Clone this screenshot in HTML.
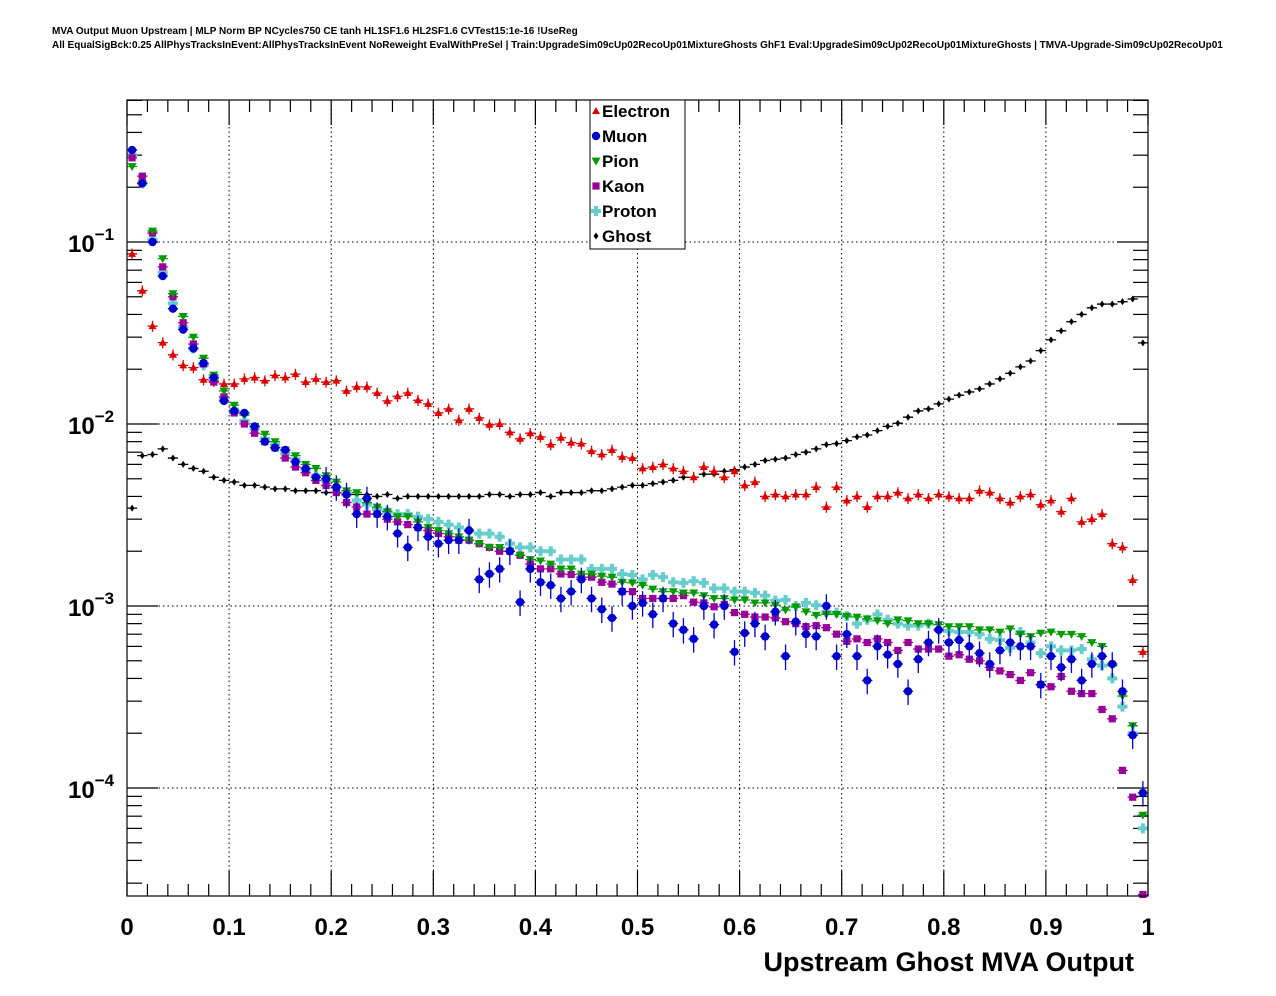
<!DOCTYPE html>
<html><head><meta charset="utf-8"><style>
html,body{margin:0;padding:0;background:#fff;}
svg{display:block;font-family:"Liberation Sans",sans-serif;}
</style></head><body>
<svg id="chart" width="1276" height="996" viewBox="0 0 1276 996" xmlns="http://www.w3.org/2000/svg">
<rect x="0" y="0" width="1276" height="996" fill="#fff"/>
<text x="52" y="34" font-size="10" font-weight="bold">MVA Output Muon Upstream | MLP Norm BP NCycles750 CE tanh HL1SF1.6 HL2SF1.6 CVTest15:1e-16 !UseReg</text>
<text x="52" y="48" font-size="10" font-weight="bold">All EqualSigBck:0.25 AllPhysTracksInEvent:AllPhysTracksInEvent NoReweight EvalWithPreSel | Train:UpgradeSim09cUp02RecoUp01MixtureGhosts GhF1 Eval:UpgradeSim09cUp02RecoUp01MixtureGhosts | TMVA-Upgrade-Sim09cUp02RecoUp01</text>
<g id="grid"></g>
<g id="axes"></g>
<g id="series"></g>
<rect x="127" y="100" width="1021" height="796" fill="none" stroke="#000" stroke-width="1.2"/>
<text x="1134" y="971" font-size="27" font-weight="bold" text-anchor="end">Upstream Ghost MVA Output</text>
<g>
<rect x="590" y="100" width="95" height="149" fill="#fff" stroke="#000" stroke-width="1"/>
<g id="legend-entries"></g>
</g>
</svg>
<script>
const binCenters = Array.from({length:100},(_,i)=>(i+0.5)/100);
const electron = [0.086,0.054,0.0345,0.028,0.024,0.021,0.0204,0.0175,0.0172,0.0166,
0.0166,0.0177,0.018,0.0173,0.0185,0.018,0.0188,0.017,0.0177,0.017,
0.0173,0.0152,0.016,0.016,0.0148,0.0134,0.0142,0.0148,0.0135,0.0129,
0.0115,0.0121,0.0105,0.0121,0.0108,0.0099,0.0100,0.0090,0.0083,0.0089,
0.0085,0.0077,0.0084,0.0079,0.0078,0.0071,0.0068,0.0072,0.0066,0.0065,
0.0057,0.0058,0.0060,0.0057,0.0055,0.0051,0.0058,0.0055,0.0051,0.0055,
0.0046,0.0048,0.0040,0.0041,0.0040,0.0041,0.0041,0.0045,0.0035,0.0045,
0.0038,0.0040,0.0035,0.0040,0.0040,0.0042,0.0039,0.0041,0.0039,0.0041,
0.0040,0.0039,0.0039,0.0043,0.0042,0.0039,0.0037,0.0040,0.0041,0.0036,
0.0038,0.0033,0.0039,0.0029,0.0030,0.0032,0.0022,0.0021,0.00139,0.00056];
const ghost = [0.00345,0.0067,0.0068,0.0073,0.0065,0.0060,0.0057,0.0055,0.0051,0.0049,
0.0048,0.0046,0.0046,0.0045,0.0044,0.0044,0.0043,0.0043,0.0043,0.0042,
0.0042,0.0041,0.0041,0.0041,0.0040,0.0041,0.0039,0.0040,0.0040,0.0040,
0.0040,0.0040,0.0040,0.0040,0.0040,0.0041,0.0041,0.0040,0.0041,0.0041,
0.0042,0.0040,0.0042,0.0042,0.0042,0.0043,0.0043,0.0044,0.0045,0.0046,
0.0046,0.0047,0.0048,0.0049,0.0051,0.0051,0.0053,0.0053,0.0055,0.0056,
0.0058,0.0060,0.0063,0.0064,0.0065,0.0068,0.0070,0.0073,0.0077,0.0078,
0.0081,0.0085,0.0087,0.0092,0.0097,0.0101,0.0109,0.0118,0.0121,0.0129,
0.0137,0.0144,0.0150,0.0156,0.0166,0.0177,0.0190,0.0206,0.0222,0.0253,
0.0290,0.0325,0.0365,0.0400,0.0435,0.0456,0.0456,0.0470,0.0486,0.0279];
const muon = [0.32,0.21,0.10,0.065,0.043,0.033,0.026,0.0216,0.018,0.0134,
0.0118,0.0115,0.0097,0.0080,0.0074,0.0072,0.0062,0.0057,0.0051,0.0050,
0.0045,0.0041,0.0032,0.0039,0.0032,0.0031,0.0025,0.0021,0.0027,0.0024,
0.0022,0.0023,0.0023,0.0026,0.0014,0.0015,0.0016,0.0020,0.00105,0.0016,
0.00135,0.0013,0.0011,0.0012,0.0014,0.0011,0.00096,0.00086,0.0012,0.0010,
0.00104,0.0009,0.0011,0.0008,0.00074,0.00066,0.0010,0.00079,0.0010,0.00056,
0.00071,0.0008,0.00068,0.00093,0.00053,0.00082,0.0007,0.00068,0.0010,0.00053,
0.0007,0.00053,0.00039,0.0006,0.00054,0.00048,0.00034,0.00051,0.00063,0.00074,
0.00063,0.00065,0.0006,0.00055,0.00048,0.00057,0.00063,0.0006,0.0006,0.00037,
0.00053,0.00046,0.00051,0.00039,0.00048,0.00053,0.00048,0.00034,0.000195,0.000094];
const pion = [0.26,0.21,0.115,0.081,0.052,0.039,0.030,0.023,0.0186,0.0152,
0.0127,0.0112,0.0097,0.0088,0.0080,0.0072,0.0067,0.0060,0.0057,0.0052,
0.0048,0.0043,0.0042,0.0037,0.0035,0.0033,0.0031,0.0031,0.0029,0.0027,
0.0026,0.0025,0.0024,0.0023,0.0022,0.0021,0.0021,0.0020,0.0019,0.0018,
0.00177,0.0017,0.0016,0.0016,0.0015,0.0015,0.00146,0.00144,0.00135,0.00134,
0.0013,0.00124,0.0012,0.0012,0.00118,0.00118,0.00114,0.0011,0.0011,0.00108,
0.00108,0.00104,0.00104,0.00101,0.00095,0.00099,0.00093,0.00089,0.0009,0.0009,
0.00088,0.00087,0.00085,0.00083,0.0008,0.00084,0.00083,0.0008,0.0008,0.00079,
0.00077,0.00077,0.00077,0.00074,0.00074,0.00072,0.00075,0.0007,0.00068,0.00071,
0.00072,0.0007,0.0007,0.00068,0.00063,0.0006,0.00047,0.00032,0.00022,0.000071];
const kaon = [0.29,0.23,0.112,0.073,0.050,0.036,0.0275,0.0214,0.017,0.0141,
0.0115,0.0100,0.0089,0.0080,0.0074,0.0065,0.0058,0.0054,0.0049,0.0046,
0.0042,0.0037,0.0035,0.0032,0.0032,0.0030,0.0029,0.0028,0.0027,0.0026,
0.0025,0.0024,0.0023,0.0023,0.0022,0.0021,0.0020,0.0020,0.0019,0.0017,
0.0016,0.0016,0.0015,0.00149,0.00144,0.00144,0.00135,0.00132,0.0012,0.0012,
0.0011,0.0011,0.0011,0.0011,0.00114,0.00105,0.00104,0.00099,0.00102,0.00092,
0.0009,0.00087,0.00087,0.00086,0.00082,0.0008,0.00077,0.00078,0.00076,0.0007,
0.00064,0.00066,0.00063,0.00066,0.00063,0.00057,0.00063,0.00058,0.00058,0.00058,
0.00053,0.00054,0.00051,0.0005,0.00046,0.00044,0.00042,0.00039,0.00043,0.00037,
0.00036,0.00041,0.00034,0.00033,0.00033,0.00027,0.00024,0.000125,0.000089,0.000026];
const proton = [0.30,0.21,0.103,0.068,0.046,0.034,0.026,0.021,0.0178,0.0138,
0.0120,0.0104,0.0094,0.0083,0.0077,0.0069,0.0064,0.0056,0.0052,0.0049,
0.0045,0.0041,0.0038,0.0036,0.0034,0.0033,0.0032,0.0032,0.0031,0.0030,
0.0029,0.0028,0.0027,0.0026,0.0025,0.0025,0.0024,0.0022,0.0021,0.0021,
0.0020,0.0020,0.0018,0.0018,0.0018,0.0016,0.0016,0.0016,0.0015,0.00148,
0.0014,0.00148,0.00144,0.00135,0.00134,0.00137,0.00134,0.00125,0.00125,0.0012,
0.0012,0.00118,0.00114,0.00107,0.00108,0.0010,0.00104,0.00101,0.00093,0.00092,
0.00088,0.0008,0.00084,0.0009,0.00084,0.0008,0.00078,0.00078,0.0008,0.00074,
0.00073,0.00072,0.00072,0.0007,0.00066,0.00065,0.00059,0.00072,0.00063,0.00055,
0.0006,0.00057,0.00057,0.00058,0.00051,0.00047,0.0004,0.00028,0.0002,0.00006];
const xTickLabels = ["0","0.1","0.2","0.3","0.4","0.5","0.6","0.7","0.8","0.9","1"];
const yTickExponents = [-1,-2,-3,-4];

const NS="http://www.w3.org/2000/svg";
const X0=127,X1=1148,Y0=100,Y1=896;
function xScale(v){return X0+v*(X1-X0);}
function yScale(v){return 788-(Math.log10(v)+4)*182;}
function mk(tag,attrs,parent){const e=document.createElementNS(NS,tag);for(const k in attrs)e.setAttribute(k,attrs[k]);parent.appendChild(e);return e;}

const grid=document.getElementById('grid');
for(let i=1;i<10;i++){const x=xScale(i/10);
 const l=mk('line',{x1:x,x2:x,y1:Y0,y2:Y1,stroke:'#000','stroke-width':1,'stroke-dasharray':'1.5,3'},grid);
 
 }
yTickExponents.forEach(e=>{const y=yScale(Math.pow(10,e));
 const l=mk('line',{x1:X0,x2:X1,y1:y,y2:y,stroke:'#000','stroke-width':1,'stroke-dasharray':'1.5,3'},grid);
 
 });

const axes=document.getElementById('axes');
for(let i=0;i<=50;i++){const x=xScale(i/50);const len=(i%5===0)?25:12;
 const t=mk('line',{x1:x,x2:x,y1:Y1,y2:Y1-len,stroke:'#000','stroke-width':1.2},axes);
 
 
 const t2=mk('line',{x1:x,x2:x,y1:Y0,y2:Y0+len,stroke:'#000','stroke-width':1.2},axes);
 
 }
xTickLabels.forEach((s,i)=>{const t=mk('text',{x:xScale(i/10),y:935,'font-size':24,'font-weight':'bold','text-anchor':'middle'},axes);t.textContent=s;
 
 });
for(let e=-5;e<=0;e++){for(let m=1;m<10;m++){const v=m*Math.pow(10,e);const y=yScale(v);if(y<Y0||y>Y1)continue;const len=m===1?31:15;
 const t=mk('line',{x1:X0,x2:X0+len,y1:y,y2:y,stroke:'#000','stroke-width':1.2},axes);
 
 
 const t2=mk('line',{x1:X1,x2:X1-len,y1:y,y2:y,stroke:'#000','stroke-width':1.2},axes);
 
 }}
yTickExponents.forEach(e=>{const y=yScale(Math.pow(10,e));
 const t=mk('text',{x:68,y:y+10,'font-size':24,'font-weight':'bold'},axes);
 
 
 const a=mk('tspan',{},t);a.textContent='10';
 const b=mk('tspan',{'font-size':17,dy:-12},t);b.textContent='\u2212'+Math.abs(e);});

const S=document.getElementById('series');
function marker(g,type,x,y,col,s){
 if(type==='tri-up')return mk('polygon',{points:`${x},${y-s} ${x-s},${y+s*0.75} ${x+s},${y+s*0.75}`,fill:col},g);
 if(type==='tri-down')return mk('polygon',{points:`${x},${y+s} ${x-s},${y-s*0.75} ${x+s},${y-s*0.75}`,fill:col},g);
 if(type==='circle')return mk('circle',{cx:x,cy:y,r:s,fill:col},g);
 if(type==='square')return mk('rect',{x:x-s,y:y-s,width:2*s,height:2*s,fill:col},g);
 if(type==='cross'){const w=s*0.4;return mk('path',{d:`M${x-w},${y-s}h${2*w}v${s-w}h${s-w}v${2*w}h${-(s-w)}v${s-w}h${-2*w}v${-(s-w)}h${-(s-w)}v${-2*w}h${s-w}z`,fill:col},g);}
 if(type==='diamond')return mk('polygon',{points:`${x},${y-s} ${x+s*0.7},${y} ${x},${y+s} ${x-s*0.7},${y}`,fill:col},g);
}
const seriesList=[
 {name:'ghost',label:'Ghost',data:ghost,col:'#000',type:'diamond',s:3.5,err:0.03},
 {name:'electron',label:'Electron',data:electron,col:'#dd0000',type:'tri-up',s:4,err:0.07},
 {name:'proton',label:'Proton',data:proton,col:'#66cccc',type:'cross',s:5,err:0.03},
 {name:'kaon',label:'Kaon',data:kaon,col:'#990099',type:'square',s:3.6,err:0.03},
 {name:'pion',label:'Pion',data:pion,col:'#009900',type:'tri-down',s:4.5,err:0.03},
 {name:'muon',label:'Muon',data:muon,col:'#0000cc',type:'circle',s:4.2,err:0.16}
];
seriesList.forEach(sr=>{
 const g=mk('g',{},S);
 
 
 sr.data.forEach((v,i)=>{
  const c=binCenters[i];const x=xScale(c);const y=yScale(v);
  const xl=xScale(c-0.005),xr=xScale(c+0.005);
  const err=(sr.name==='muon'&&v>0.005)?0.03:sr.err;
  const e=mk('path',{d:`M${xl},${y}H${xr}M${x},${yScale(v*(1+err))}V${yScale(v*(1-err))}`,stroke:sr.col,'stroke-width':1.3,fill:'none'},g);
  
  
  const m=marker(g,sr.type,x,y,sr.col,sr.s);
  
  
 });
});
const legendOrder=['electron','muon','pion','kaon','proton','ghost'];
const L=document.getElementById('legend-entries');
legendOrder.forEach((n,k)=>{
 const sr=seriesList.find(s=>s.name===n);const y=111+k*25;
 const g=mk('g',{},L);
 
 
 marker(g,sr.type,596,y,sr.col,sr.s);
 const t=mk('text',{x:602,y:y+6,'font-size':17,'font-weight':'bold'},g);t.textContent=sr.label;
});
</script>
</body></html>
